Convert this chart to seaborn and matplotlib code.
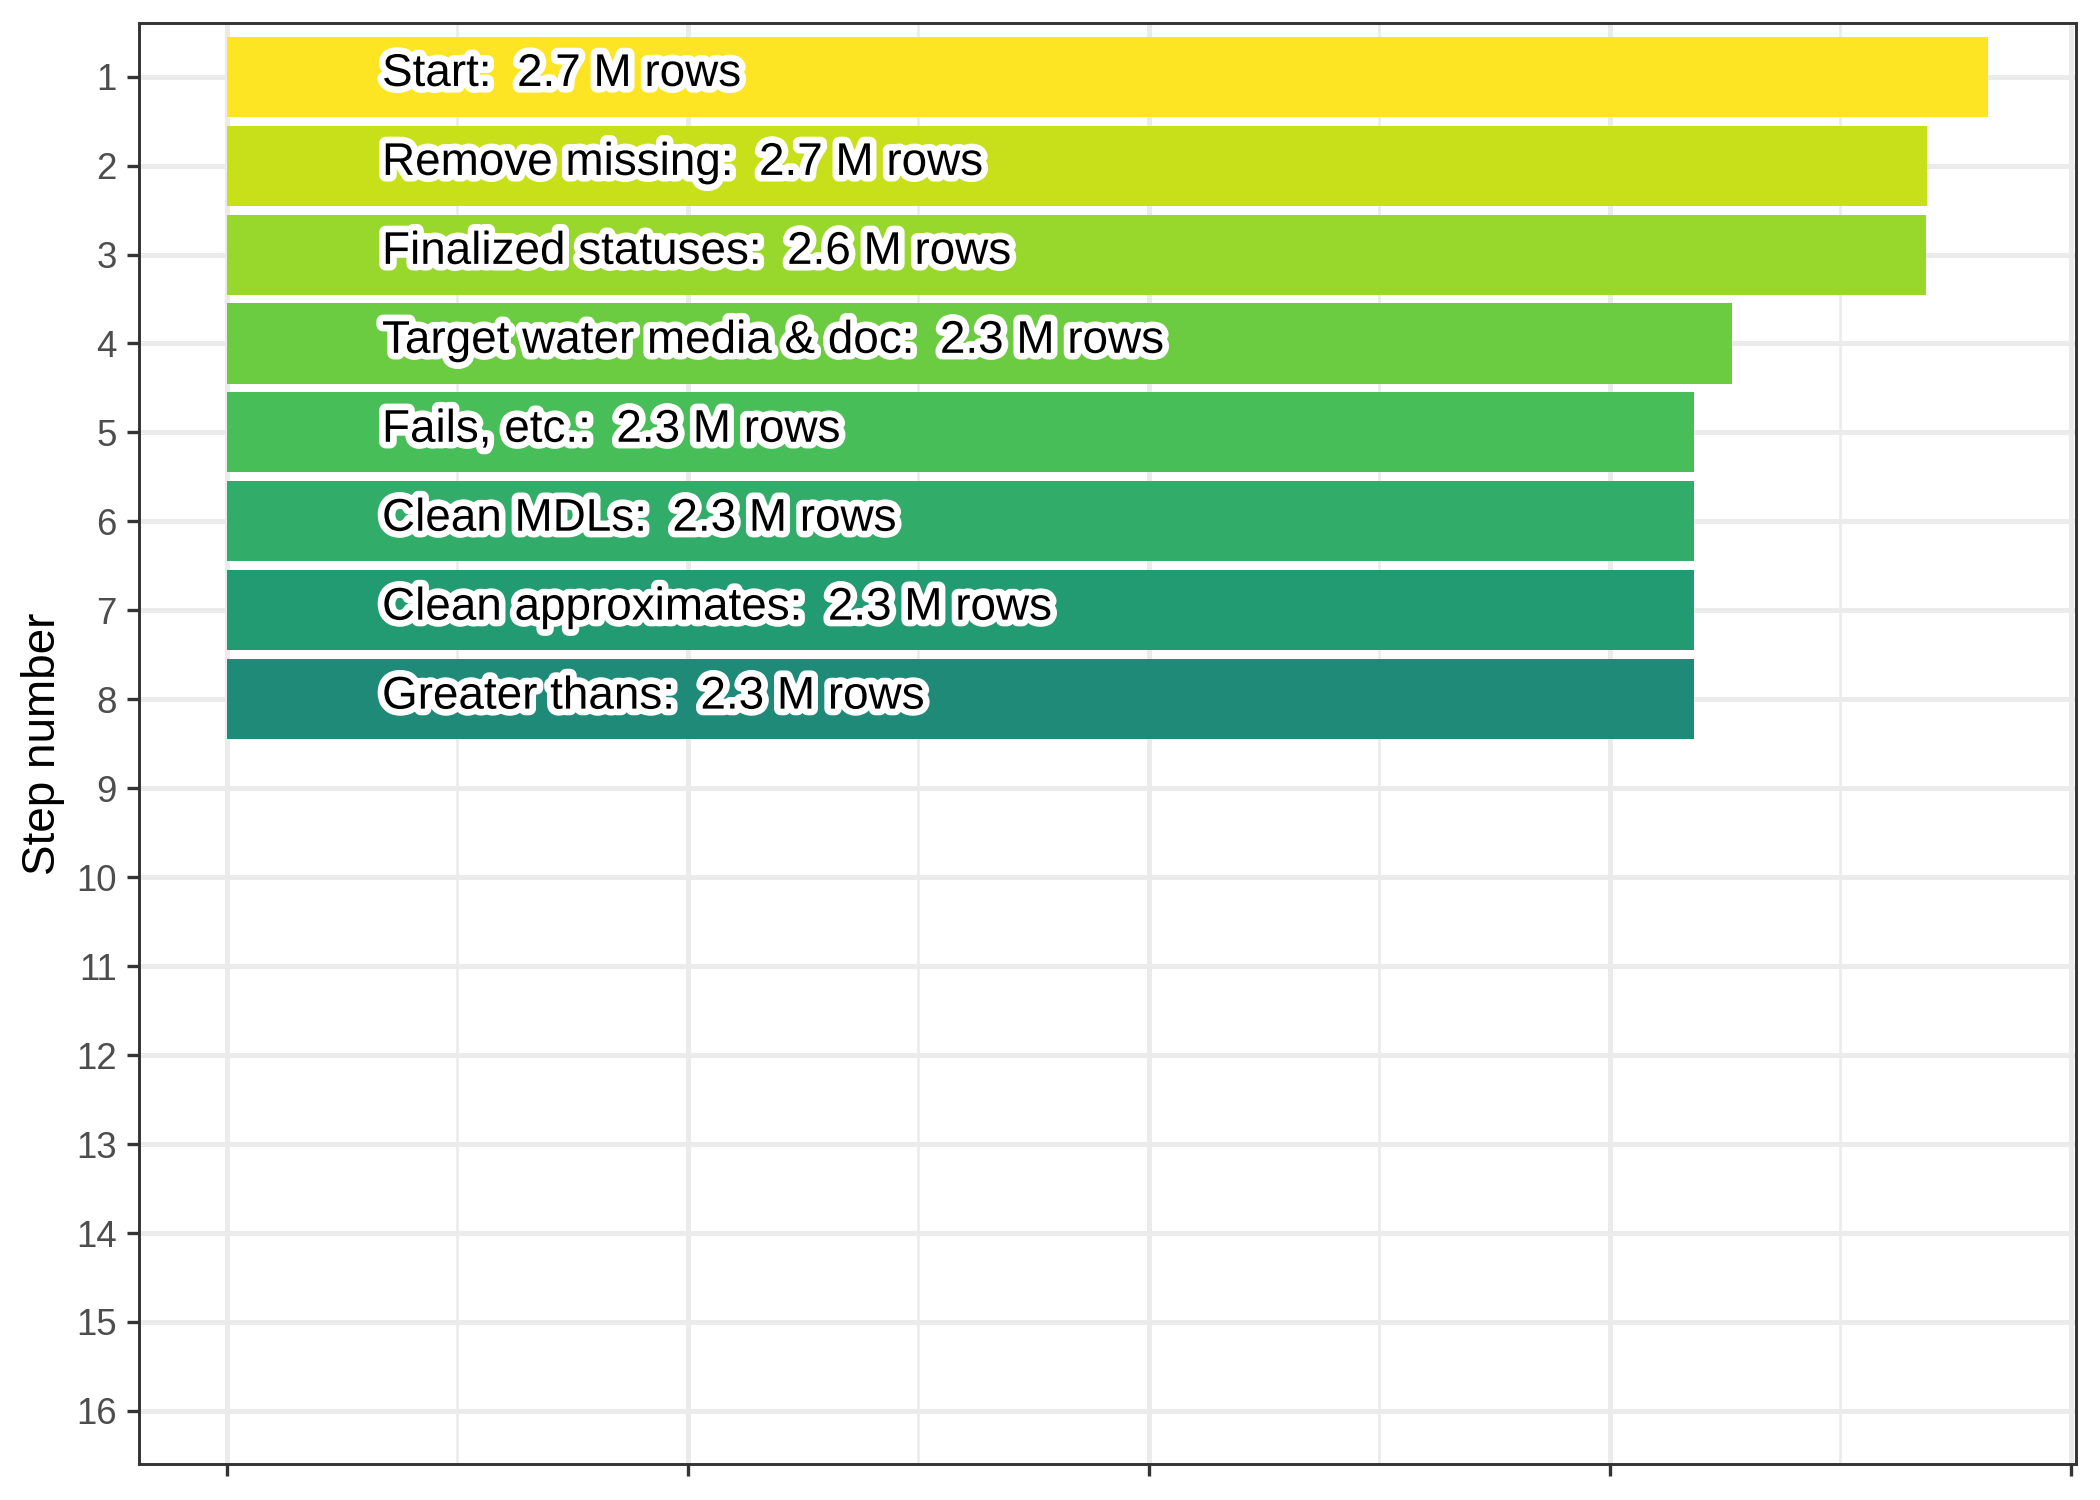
import numpy as np
import pandas as pd
import matplotlib
matplotlib.use("Agg")
import matplotlib.pyplot as plt
import matplotlib.patheffects as pe
import seaborn as sns

# ---- datos ---- #
pasos = [1, 2, 3, 4, 5, 6, 7, 8]
nombres = ["Start", "Remove missing", "Finalized statuses",
           "Target water media & doc", "Fails, etc.", "Clean MDLs",
           "Clean approximates", "Greater thans"]
filas_M = [2.746, 2.651, 2.649, 2.346, 2.288, 2.288, 2.288, 2.288]
etiquetas_M = ["2.7", "2.7", "2.6", "2.3", "2.3", "2.3", "2.3", "2.3"]
colores = ["#FDE523", "#C8E01A", "#98D72B", "#6CCC41",
           "#47BE58", "#31AC69", "#229A72", "#1F8A78"]
pasos_eje = list(range(1, 17))

df = pd.DataFrame({"paso": pasos, "filas": filas_M,
                   "grupo": [str(p) for p in pasos]})

sns.set_style("white")
plt.rcParams["font.family"] = ["Liberation Sans", "DejaVu Sans"]

fig = plt.figure(figsize=(7, 5), dpi=300)
ax = fig.add_axes([0.0662, 0.0238, 0.9886 - 0.0662, 0.9845 - 0.0238])

# Cuadricula estilo theme_bw
ax.set_axisbelow(True)

sns.barplot(data=df, x="filas", y="paso", hue="grupo", orient="h",
            native_scale=True, dodge=False, width=0.9, linewidth=0,
            saturation=1, palette=dict(zip(df["grupo"], colores)),
            hue_order=list(df["grupo"]), legend=False, ax=ax)

# Limites (expansion por defecto de ggplot)
maximo = max(filas_M)
ax.set_xlim(-0.05 * maximo, 1.05 * maximo)
ax.set_ylim(16.6, 0.4)

paso_x = maximo / 3.821
ax.set_xticks(np.arange(0, 4.5) * paso_x)
ax.set_xticks(np.arange(0.5, 4.5, 1) * paso_x, minor=True)
ax.set_xticklabels([])
ax.set_yticks(pasos_eje)
ax.set_yticklabels([str(p) for p in pasos_eje])

ax.grid(True, which="major", axis="both", color="#EBEBEB", linewidth=1.2)
ax.grid(True, which="minor", axis="x", color="#EBEBEB", linewidth=0.6)

for s in ax.spines.values():
    s.set_color("#333333")
    s.set_linewidth(0.7)

ax.tick_params(axis="both", which="major", length=2.9, width=0.8,
               color="#333333", labelsize=8.8, labelcolor="#4D4D4D", pad=2.5,
               bottom=True, left=True, direction="out")
ax.tick_params(axis="x", which="minor", length=0)

ax.set_xlabel("")
ax.set_ylabel("Step number", fontsize=11, color="black", labelpad=2.5)

# Etiquetas con contorno blanco
x_texto = 0.088 * maximo
for paso, nombre, etiqueta in zip(pasos, nombres, etiquetas_M):
    ax.text(x_texto, paso - 0.03, f"{nombre}:  {etiqueta} M rows",
            ha="left", va="center", fontsize=11, color="black",
            path_effects=[pe.withStroke(linewidth=3.2, foreground="white")])

fig.savefig("out.png", dpi=300)
